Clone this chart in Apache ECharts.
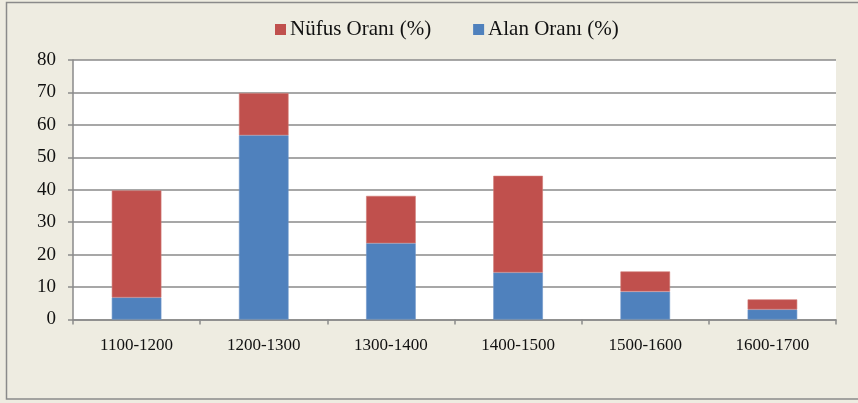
<!DOCTYPE html>
<html>
<head>
<meta charset="utf-8">
<script src="https://cdn.jsdelivr.net/npm/echarts@6/dist/echarts.min.js"></script>
<style>html,body{margin:0;padding:0;background:#EEECE1;}#c{width:858px;height:403px;}</style>
</head>
<body>
<div id="c"></div>
<script>
var categories = ['1100-1200', '1200-1300', '1300-1400', '1400-1500', '1500-1600', '1600-1700'];
var alanOrani = [6.8, 56.8, 23.5, 14.5, 8.6, 3.1];
var nufusOrani = [33.0, 13.0, 14.6, 29.8, 6.2, 3.1];
var yTicks = [0, 10, 20, 30, 40, 50, 60, 70, 80];

var font = '"Liberation Serif", "Times New Roman", serif';
var chart = echarts.init(document.getElementById('c'), null, {renderer: 'canvas'});
chart.setOption({
  backgroundColor: '#EEECE1',
  animation: false,
  graphic: [{
    type: 'rect', z: 100, silent: true,
    shape: {x: 6.5, y: 2.5, width: 900, height: 396.5},
    style: {fill: 'none', stroke: '#8a8a8a', lineWidth: 1.5}
  }],
  legend: {
    data: ['Nüfus Oranı (%)', 'Alan Oranı (%)'],
    top: 14, left: 270,
    itemWidth: 11, itemHeight: 11, itemGap: 42,
    icon: 'rect',
    itemStyle: {borderWidth: 0},
    textStyle: {fontFamily: font, fontSize: 21, color: '#111', padding: [0, 0, 0, -1]}
  },
  grid: {
    left: 73, right: 22, top: 60, bottom: 83.5,
    show: true, backgroundColor: '#ffffff', borderWidth: 0
  },
  xAxis: {
    type: 'category', data: categories,
    axisLine: {lineStyle: {color: '#8a8a8a', width: 1.5}},
    axisTick: {show: true, length: 5, lineStyle: {color: '#8a8a8a', width: 1.5}},
    axisLabel: {fontFamily: font, fontSize: 17, color: '#111', margin: 18}
  },
  yAxis: {
    type: 'value', min: yTicks[0], max: yTicks[yTicks.length - 1], interval: 10,
    axisLine: {show: true, lineStyle: {color: '#8a8a8a', width: 1.5}},
    axisTick: {show: true, length: 5, lineStyle: {color: '#8a8a8a', width: 1.5}},
    splitLine: {lineStyle: {color: '#8a8a8a', width: 1.5}},
    axisLabel: {fontFamily: font, fontSize: 19, color: '#111', margin: 17}
  },
  series: [
    {name: 'Alan Oranı (%)', type: 'bar', stack: 'total', data: alanOrani, barWidth: '39%',
     itemStyle: {color: '#4F81BD', borderColor: '#6E97C9', borderWidth: 0.6}},
    {name: 'Nüfus Oranı (%)', type: 'bar', stack: 'total', data: nufusOrani, barWidth: '39%',
     itemStyle: {color: '#C0504D', borderColor: '#D07874', borderWidth: 0.6}}
  ]
});
</script>
</body>
</html>
